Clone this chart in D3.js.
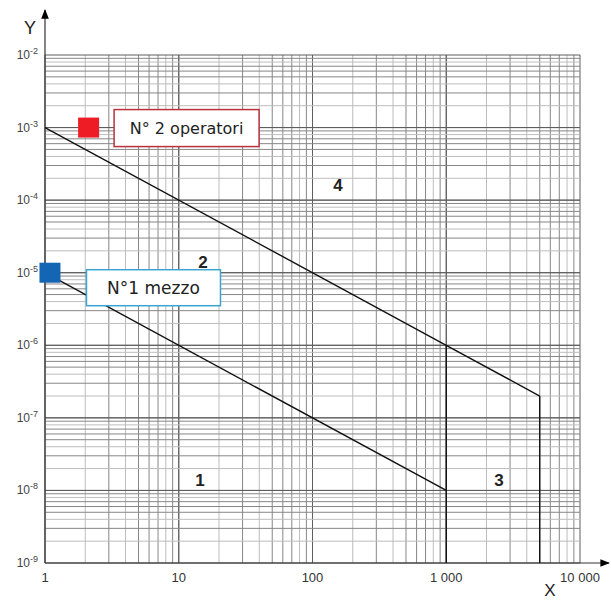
<!DOCTYPE html>
<html>
<head>
<meta charset="utf-8">
<script src="https://cdn.jsdelivr.net/npm/d3@7"></script>
<style>
  body { margin: 0; background: #fff; }
  text { font-family: "Liberation Sans", Arial, sans-serif; }
  text.legend { font-family: "DejaVu Sans", Verdana, sans-serif; }
</style>
</head>
<body>
<div id="plot"></div>
<script>
// Values
const xTicks = [1, 10, 100, 1000, 10000];
const xTickLabels = ["1", "10", "100", "1 000", "10 000"];
const yExponents = [-2, -3, -4, -5, -6, -7, -8, -9];
const upperLine = [[1, 1e-3], [1000, 1e-6], [5000, 2e-7]];
const lowerLine = [[1, 1e-5], [1000, 1e-8]];
const boundaries = [
  [[1000, 1e-6], [1000, 1e-9]],
  [[5000, 2e-7], [5000, 1e-9]]
];
const zoneLabels = ["1", "2", "3", "4"];
const zoneX = [14.4, 15.2, 2480, 155];
const zoneY = [1.4e-8, 1.4e-5, 1.4e-8, 1.6e-4];
const legendLabels = ["N° 2 operatori", "N°1 mezzo"];
const legendX = [2.1, 1.08];
const legendY = [1e-3, 1e-5];

const width = 611, height = 603;
const svg = d3.select("#plot")
  .append("svg")
  .attr("width", width)
  .attr("height", height);

const x = d3.scaleLog().domain([1, 10000]).range([45, 580]);
const y = d3.scaleLog().domain([1e-9, 1e-2]).range([563, 55]);

// minor / major grid
const grid = svg.append("g");
const xGrid = [];
for (let d = 1; d < 10000; d *= 10)
  for (let m = 1; m <= 10; m++) xGrid.push({v: d * m, m: m});
const yGrid = [];
for (let d = 1e-9; d < 1e-2 * 0.99; d *= 10)
  for (let m = 1; m <= 10; m++) yGrid.push({v: d * m, m: m});

const shade = m => (m === 1 || m === 10) ? "#5e5e5e" : (m === 2 || m === 4 || m === 8) ? "#bdbdbd" : "#878787";

grid.selectAll("line.vx")
  .data(xGrid)
  .enter().append("line")
  .attr("x1", d => x(d.v)).attr("x2", d => x(d.v))
  .attr("y1", y(1e-9)).attr("y2", y(1e-2))
  .attr("stroke", d => shade(d.m))
  .attr("stroke-width", 1);

grid.selectAll("line.hy")
  .data(yGrid)
  .enter().append("line")
  .attr("y1", d => y(d.v)).attr("y2", d => y(d.v))
  .attr("x1", x(1)).attr("x2", x(10000))
  .attr("stroke", d => shade(d.m))
  .attr("stroke-width", 1);

// axes with arrows
svg.append("defs").append("marker")
  .attr("id", "arrow")
  .attr("viewBox", "0 0 10 10")
  .attr("refX", 9).attr("refY", 5)
  .attr("markerWidth", 8).attr("markerHeight", 8)
  .attr("orient", "auto")
  .append("path").attr("d", "M0,1 L10,5 L0,9 Z").attr("fill", "#000");

svg.append("line")
  .attr("x1", x(1)).attr("y1", y(1e-9))
  .attr("x2", x(1)).attr("y2", 10)
  .attr("stroke", "#333").attr("stroke-width", 1.2)
  .attr("marker-end", "url(#arrow)");
svg.append("line")
  .attr("x1", x(1)).attr("y1", y(1e-9))
  .attr("x2", 609).attr("y2", y(1e-9))
  .attr("stroke", "#333").attr("stroke-width", 1.2)
  .attr("marker-end", "url(#arrow)");

svg.append("text").attr("x", 30).attr("y", 34)
  .attr("text-anchor", "middle").attr("font-size", 18).attr("fill", "#222").text("Y");
svg.append("text").attr("x", 550).attr("y", 596)
  .attr("text-anchor", "middle").attr("font-size", 17).attr("fill", "#222").text("X");

// tick labels
svg.selectAll("text.xt")
  .data(xTicks)
  .enter().append("text")
  .attr("x", d => x(d))
  .attr("y", 582)
  .attr("text-anchor", "middle")
  .attr("font-size", 13)
  .attr("fill", "#333")
  .text((d, i) => xTickLabels[i]);

const yt = svg.selectAll("text.yt")
  .data(yExponents)
  .enter().append("text")
  .attr("x", 38)
  .attr("y", d => y(Math.pow(10, d)) + 4)
  .attr("text-anchor", "end")
  .attr("font-size", 12)
  .attr("fill", "#444");
yt.append("tspan").text("10");
yt.append("tspan").attr("dy", -5).attr("font-size", 9).text(d => d);

// curves
const line = d3.line().x(d => x(d[0])).y(d => y(d[1]));
[upperLine, lowerLine, ...boundaries].forEach(pts => {
  svg.append("path")
    .attr("d", line(pts))
    .attr("fill", "none")
    .attr("stroke", "#111")
    .attr("stroke-width", 1.4);
});

// zone numbers
svg.selectAll("text.zone")
  .data(zoneLabels)
  .enter().append("text")
  .attr("x", (d, i) => x(zoneX[i]))
  .attr("y", (d, i) => y(zoneY[i]) + 6)
  .attr("text-anchor", "middle")
  .attr("font-size", 17)
  .attr("font-weight", "bold")
  .attr("fill", "#222")
  .text(d => d);

// legend markers and boxes
const legendStyle = [
  {fill: "#ee1c24", border: "#b8323c", dx: 26, dy: -18, w: 145, h: 37, fs: 16},
  {fill: "#1565b5", border: "#3ca4cf", dx: 37, dy: -3, w: 134, h: 36, fs: 17}
];
legendLabels.forEach((lab, i) => {
  const cx = x(legendX[i]), cy = y(legendY[i]);
  const s = legendStyle[i];
  svg.append("rect")
    .attr("x", cx - 10).attr("y", cy - 10)
    .attr("width", 21).attr("height", 20)
    .attr("fill", s.fill);
  const bx = cx + s.dx, by = cy + s.dy;
  svg.append("rect")
    .attr("x", bx).attr("y", by)
    .attr("width", s.w).attr("height", s.h)
    .attr("fill", "#fff")
    .attr("stroke", s.border)
    .attr("stroke-width", 1.5);
  svg.append("text")
    .attr("class", "legend")
    .attr("x", bx + s.w / 2)
    .attr("y", by + s.h / 2 + 6)
    .attr("text-anchor", "middle")
    .attr("font-size", s.fs)
    .attr("fill", "#222")
    .text(lab);
});
</script>
</body>
</html>
